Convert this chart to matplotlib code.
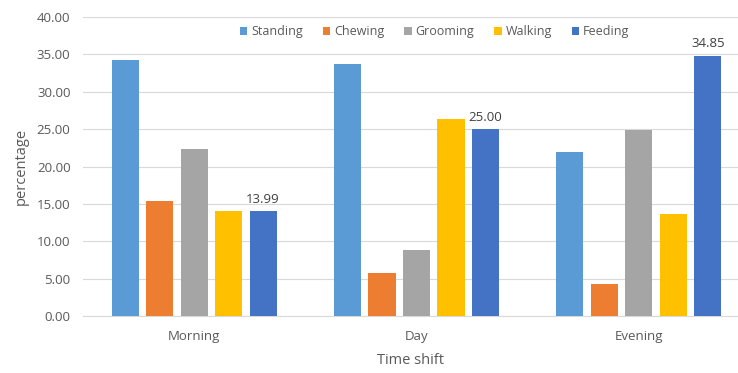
import matplotlib
matplotlib.use("Agg")
import matplotlib.pyplot as plt
import numpy as np

categories = ["Morning", "Day", "Evening"]
series_names = ["Standing", "Chewing", "Grooming", "Walking", "Feeding"]
standing = [34.2, 33.7, 22.0]
chewing = [15.4, 5.8, 4.3]
grooming = [22.3, 8.8, 24.9]
walking = [14.0, 26.4, 13.6]
feeding = [13.99, 25.00, 34.85]
colors = ["#5B9BD5", "#ED7D31", "#A5A5A5", "#FFC000", "#4472C4"]
yticks = [0, 5, 10, 15, 20, 25, 30, 35, 40]

plt.rcParams['font.family'] = ['Open Sans', 'DejaVu Sans']
txt = "#595959"

fig = plt.figure(figsize=(7.38, 3.73), dpi=100)
ax = fig.add_axes([0.1125, 0.1528, 0.8875, 0.8016])

data = [standing, chewing, grooming, walking, feeding]
x = np.arange(len(categories))
step = 0.155
width = 0.122
for i, (name, vals, c) in enumerate(zip(series_names, data, colors)):
    pos = x + (i - 2) * step
    bars = ax.bar(pos, vals, width=width, color=c, label=name, zorder=3)
    if name == "Feeding":
        for b, v in zip(bars, vals):
            ax.text(b.get_x() + b.get_width() / 2, v + 0.7, f"{v:.2f}",
                    ha="center", va="bottom", fontsize=9.5, color="#404040")

ax.set_ylim(0, 40)
ax.set_xlim(-0.5, 2.446)
ax.set_yticks(yticks)
ax.set_yticklabels([f"{t:.2f}" for t in yticks], fontsize=9.5, color=txt)
ax.set_xticks(x)
ax.set_xticklabels(categories, fontsize=9.5, color=txt)
ax.tick_params(axis="both", length=0)
ax.tick_params(axis="y", pad=9)
ax.tick_params(axis="x", pad=10)
ax.grid(axis="y", color="#D9D9D9", linewidth=0.8, zorder=0)
for s in ["top", "right", "left"]:
    ax.spines[s].set_visible(False)
ax.spines["bottom"].set_color("#D9D9D9")
ax.set_ylabel("percentage", fontsize=10.5, color=txt, labelpad=6)
ax.set_xlabel("Time shift", fontsize=10.5, color=txt, labelpad=7)

leg = ax.legend(loc="center", bbox_to_anchor=(0.537, 0.95), ncol=5, frameon=False,
                fontsize=9, handlelength=0.6, handleheight=0.6, handletextpad=0.3,
                columnspacing=1.6)
for t in leg.get_texts():
    t.set_color(txt)

fig.savefig("out.png", dpi=100)
